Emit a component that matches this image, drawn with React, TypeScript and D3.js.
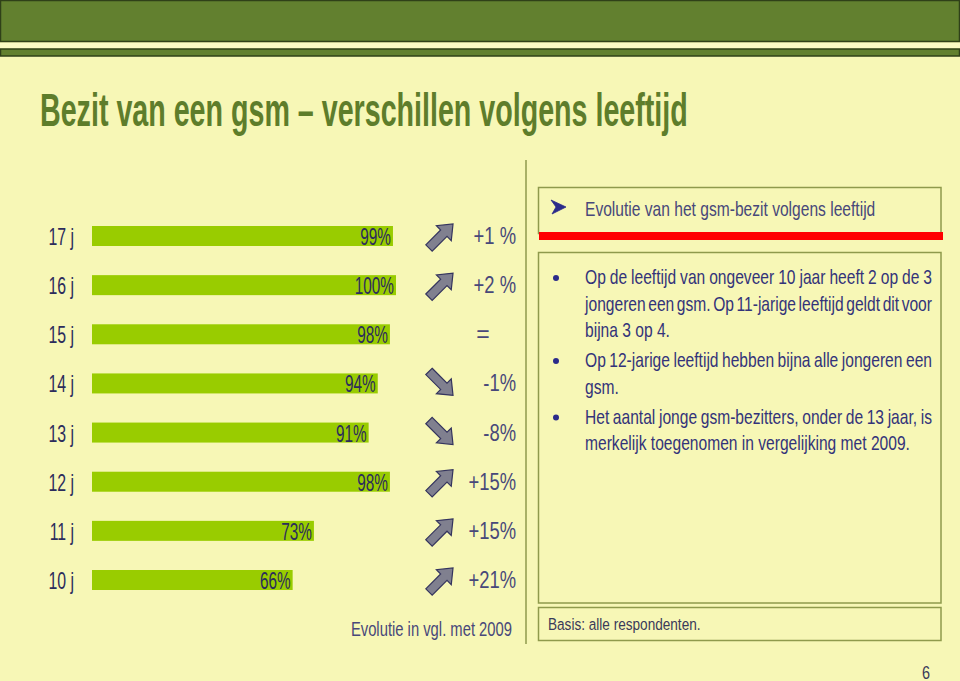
import React, { useMemo } from "react";
import * as d3 from "d3";

const categories = ["17 j", "16 j", "15 j", "14 j", "13 j", "12 j", "11 j", "10 j"];
const values = [99, 100, 98, 94, 91, 98, 73, 66];
const changes = [1, 2, 0, -1, -8, 15, 15, 21];
const changeLabels = ["+1 %", "+2 %", "=", "-1%", "-8%", "+15%", "+15%", "+21%"];
const title = "Bezit van een gsm – verschillen volgens leeftijd";
const boxHeading = "Evolutie van het gsm-bezit volgens leeftijd";
const bullets = [
  ["Op de leeftijd van ongeveer 10 jaar heeft 2 op de 3", "jongeren een gsm. Op 11-jarige leeftijd geldt dit voor", "bijna 3 op 4."],
  ["Op 12-jarige leeftijd hebben bijna alle jongeren een", "gsm."],
  ["Het aantal jonge gsm-bezitters, onder de 13 jaar,  is", "merkelijk toegenomen in vergelijking met 2009."],
];
const evolNote = "Evolutie in vgl. met 2009";
const basisNote = "Basis: alle respondenten.";
const pageNumber = "6";

const FONT = "'Liberation Sans', Arial, sans-serif";
const BG = "#f7f7b6";
const HEADER = "#62802f";
const DARK = "#2f4018";
const BAR = "#99cc00";
const NAVY = "#2c2c5c";
const SLATE = "#48487a";
const BORDER = "#8f9a4c";

let ctx: CanvasRenderingContext2D | null = null;
function measure(text: string, size: number, weight = "normal") {
  if (!ctx) ctx = document.createElement("canvas").getContext("2d");
  if (!ctx) return text.length * size * 0.5;
  ctx.font = `${weight} ${size}px 'Liberation Sans'`;
  return ctx.measureText(text).width;
}

function T({ x, y, size, sx, anchor = "start", fill, weight = "normal", children }: any) {
  return (
    <text
      transform={`translate(${x},${y}) scale(${sx},1)`}
      fontSize={size}
      textAnchor={anchor}
      fill={fill}
      fontWeight={weight}
      fontFamily={FONT}
    >
      {children}
    </text>
  );
}

function Justified({ line, x, y, width, size, sx, justify, fill }: any) {
  const words = line.split(" ").filter((w: string) => w.length > 0);
  if (!justify || words.length < 2) {
    return (
      <T x={x} y={y} size={size} sx={sx} fill={fill}>
        {line}
      </T>
    );
  }
  const localW = width / sx;
  const ws = words.map((w: string) => measure(w, size));
  const total = d3.sum(ws);
  const gap = (localW - total) / (words.length - 1);
  let cx = 0;
  const xs: number[] = [];
  ws.forEach((w: number) => {
    xs.push(cx);
    cx += w + gap;
  });
  return (
    <text transform={`translate(${x},${y}) scale(${sx},1)`} fontSize={size} fill={fill} fontFamily={FONT}>
      {words.map((w: string, i: number) => (
        <tspan key={i} x={xs[i]} y={0}>
          {w}
        </tspan>
      ))}
    </text>
  );
}

function Arrow({ cx, cy, dir }: { cx: number; cy: number; dir: number }) {
  const path = "M-17,-4.5 L4,-4.5 L4,-10.5 L17,0 L4,10.5 L4,4.5 L-17,4.5 Z";
  const angle = dir > 0 ? -45 : 45;
  return (
    <path
      d={path}
      transform={`translate(${cx},${cy}) rotate(${angle})`}
      fill="#80808f"
      stroke="#34345e"
      strokeWidth={1.2}
    />
  );
}

export default function App() {
  const x = useMemo(() => d3.scaleLinear().domain([0, 100]).range([92, 396]), []);
  const y = useMemo(() => d3.scalePoint<string>().domain(categories).range([236, 580]), []);
  const barH = 20;
  const titleSx = useMemo(() => 648 / measure(title, 47, "bold"), []);

  const bulletLines: { text: string; y: number; justify: boolean; first: boolean }[] = [];
  let yy = 284;
  bullets.forEach((para) => {
    para.forEach((ln, li) => {
      bulletLines.push({ text: ln, y: yy, justify: li < para.length - 1, first: li === 0 });
      yy += 26.5;
    });
    yy += 3.5;
  });

  return (
    <svg
      width={960}
      height={681}
      style={{ position: "fixed", left: 0, top: 0, display: "block" }}
      fontFamily={FONT}
    >
      <rect x={0} y={0} width={960} height={681} fill={BG} />
      <rect x={0.5} y={0.5} width={959} height={41} fill={HEADER} stroke={DARK} strokeWidth={1.5} />
      <rect x={0} y={43} width={960} height={5} fill="#fafac4" />
      <rect x={0.5} y={49} width={959} height={7} fill={HEADER} stroke={DARK} strokeWidth={1.5} />

      <T x={40} y={126} size={47} sx={titleSx} fill="#5e7d2b" weight="bold">
        {title}
      </T>

      <line x1={526} x2={526} y1={160} y2={644} stroke={BORDER} strokeWidth={1.5} />

      {categories.map((c, i) => {
        const cy = y(c)!;
        return (
          <g key={c}>
            <T x={74} y={cy + 9} size={24} sx={0.66} anchor="end" fill={NAVY}>
              {c}
            </T>
            <rect x={x(0)} y={cy - barH / 2} width={x(values[i]) - x(0)} height={barH} fill={BAR} />
            <T x={x(values[i]) - 2} y={cy + 9} size={24} sx={0.64} anchor="end" fill={NAVY}>
              {values[i]}%
            </T>
            {changes[i] !== 0 && <Arrow cx={441} cy={cy} dir={changes[i]} />}
            <T
              x={changes[i] === 0 ? 483 : 516}
              y={cy + 8}
              size={23}
              sx={changes[i] === 0 ? 1 : 0.8}
              anchor={changes[i] === 0 ? "middle" : "end"}
              fill={SLATE}
            >
              {changeLabels[i]}
            </T>
          </g>
        );
      })}

      <T x={512} y={636} size={20} sx={0.74} anchor="end" fill={SLATE}>
        {evolNote}
      </T>

      <rect x={538.5} y={187.5} width={402.5} height={46} fill="none" stroke={BORDER} strokeWidth={1.5} />
      <rect x={539} y={232} width={404} height={8} fill="#ff0000" />
      <path d="M551,200 L566,207 L552,214 L556,207 Z" fill="#2b2b8a" stroke="#2b2b8a" strokeWidth={0.8} strokeLinejoin="round" />
      <T x={585} y={216} size={20} sx={0.78} fill={SLATE}>
        {boxHeading}
      </T>

      <rect x={538.5} y={252.5} width={402.5} height={350.5} fill="none" stroke={BORDER} strokeWidth={1.5} />
      {bulletLines.map((l, i) => (
        <g key={i}>
          {l.first && <circle cx={556} cy={l.y - 6} r={3} fill="#2b2b8a" />}
          <Justified line={l.text} x={585} y={l.y} width={347} size={20} sx={0.78} justify={l.justify} fill="#33337a" />
        </g>
      ))}

      <rect x={538.5} y={607.5} width={402.5} height={33} fill="none" stroke={BORDER} strokeWidth={1.5} />
      <T x={548} y={630} size={17} sx={0.8} fill="#3a3a5a">
        {basisNote}
      </T>

      <T x={930} y={679} size={18} sx={0.8} anchor="end" fill="#3a3a5a">
        {pageNumber}
      </T>
    </svg>
  );
}
